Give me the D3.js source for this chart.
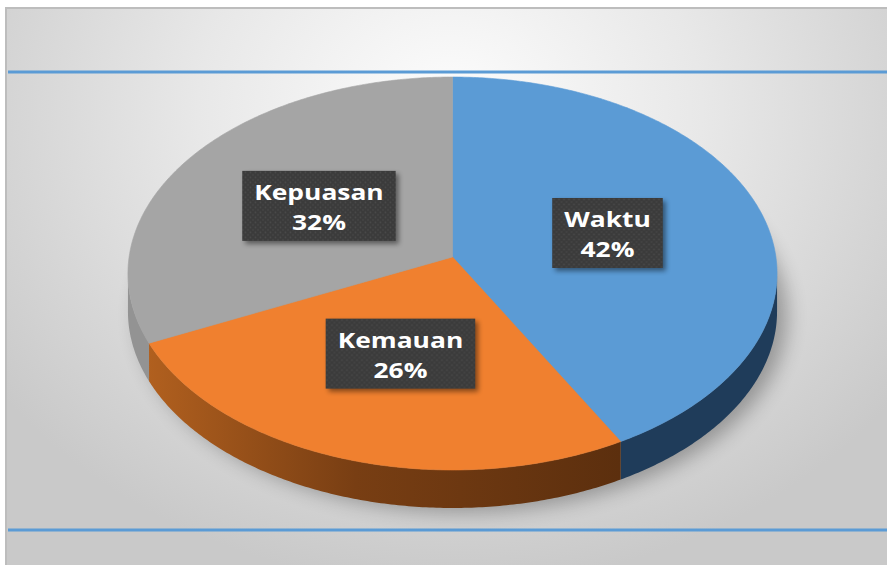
<!DOCTYPE html>
<html>
<head>
<meta charset="utf-8">
<script src="https://cdn.jsdelivr.net/npm/d3@7"></script>
<style>
  html, body { margin: 0; padding: 0; background: #fff; }
  svg { display: block; }
</style>
</head>
<body>
<script>
// data
const categories = ["Waktu", "Kemauan", "Kepuasan"];
const values = [42, 26, 32];
const percentLabels = ["42%", "26%", "32%"];

// colours of top faces and rims
const topColors = ["#5b9bd5", "#f0802f", "#a5a5a5"];
const sideColors = ["#1f3c5a", "url(#orangeSide)", "#939393"];

const W = 887, H = 565;

const svg = d3.select("body").append("svg")
  .attr("width", W)
  .attr("height", H);

const defs = svg.append("defs");

// background gradient
const bg = defs.append("radialGradient")
  .attr("id", "bg")
  .attr("gradientUnits", "userSpaceOnUse")
  .attr("cx", 450).attr("cy", 110).attr("r", 560)
  .attr("gradientTransform", "translate(450,110) scale(1,0.85) translate(-450,-110)");
bg.append("stop").attr("offset", "0%").attr("stop-color", "#fdfdfd");
bg.append("stop").attr("offset", "45%").attr("stop-color", "#e8e8e8");
bg.append("stop").attr("offset", "100%").attr("stop-color", "#c9c9c9");

// orange rim gradient
const og = defs.append("linearGradient")
  .attr("id", "orangeSide")
  .attr("gradientUnits", "userSpaceOnUse")
  .attr("x1", 140).attr("x2", 620).attr("y1", 0).attr("y2", 0);
og.append("stop").attr("offset", "0%").attr("stop-color", "#b3611f");
og.append("stop").attr("offset", "45%").attr("stop-color", "#783e13");
og.append("stop").attr("offset", "100%").attr("stop-color", "#5c2f0e");

// label texture
const pat = defs.append("pattern")
  .attr("id", "dots")
  .attr("width", 5).attr("height", 5)
  .attr("patternUnits", "userSpaceOnUse");
pat.append("rect").attr("width", 5).attr("height", 5).attr("fill", "#3b3b3b");
pat.append("circle").attr("cx", 1.5).attr("cy", 1.5).attr("r", 0.9).attr("fill", "#4a4a4a");
pat.append("circle").attr("cx", 4).attr("cy", 4).attr("r", 0.9).attr("fill", "#454545");

const blur = defs.append("filter").attr("id", "pieShadow")
  .attr("x", "-20%").attr("y", "-20%").attr("width", "140%").attr("height", "140%");
blur.append("feGaussianBlur").attr("stdDeviation", 10);

const boxShadow = defs.append("filter").attr("id", "boxShadow")
  .attr("x", "-20%").attr("y", "-20%").attr("width", "150%").attr("height", "150%");
boxShadow.append("feGaussianBlur").attr("stdDeviation", 2.5);

// chart area
svg.append("rect")
  .attr("x", 6).attr("y", 8)
  .attr("width", W).attr("height", H)
  .attr("fill", "url(#bg)")
  .attr("stroke", "#bdbdbd")
  .attr("stroke-width", 2);

svg.append("line")
  .attr("x1", 8).attr("x2", W).attr("y1", 72).attr("y2", 72)
  .attr("stroke", "#5b9bd5").attr("stroke-width", 3);
svg.append("line")
  .attr("x1", 8).attr("x2", W).attr("y1", 530).attr("y2", 530)
  .attr("stroke", "#5b9bd5").attr("stroke-width", 3);

// perspective projection of the pie disc
const cx = 452.5, cy0 = 257, A = 323.4, D = -173.5, g = 0.084, depth = 38;
function proj(a, r, dz) {
  const u = r * Math.sin(a), v = r * Math.cos(a);
  const w = 1 + g * v;
  return [cx + A * u / w, (D * v + cy0) / w + (dz || 0)];
}

const pie = d3.pie().sort(null).value(d => d);
const arcs = pie(values);

const line = d3.line();
function rim(a0, a1, dz) {
  const n = Math.max(2, Math.ceil((a1 - a0) / 0.01));
  return d3.range(n + 1).map(i => proj(a0 + (a1 - a0) * i / n, 1, dz));
}

const frontStart = Math.PI / 2 + Math.asin(g), frontEnd = 3 * Math.PI / 2 - Math.asin(g);

// soft shadow under the disc
svg.append("path")
  .attr("d", line(rim(0, 2 * Math.PI, 0).map(p => [p[0] + 10, p[1] + depth + 4])) + "Z")
  .attr("fill", "#000")
  .attr("opacity", 0.3)
  .attr("filter", "url(#pieShadow)");

const pieG = svg.append("g");

// rims (front half only)
pieG.selectAll("path.side")
  .data(arcs)
  .join("path")
  .attr("class", "side")
  .attr("d", d => {
    const a0 = Math.max(d.startAngle, frontStart), a1 = Math.min(d.endAngle, frontEnd);
    if (a1 <= a0) return null;
    const top = rim(a0, a1, 0), bot = rim(a0, a1, depth).reverse();
    return line(top.concat(bot)) + "Z";
  })
  .attr("fill", (d, i) => sideColors[i]);

// top faces
pieG.selectAll("path.top")
  .data(arcs)
  .join("path")
  .attr("class", "top")
  .attr("d", d => line([proj(0, 0)].concat(rim(d.startAngle, d.endAngle, 0))) + "Z")
  .attr("fill", (d, i) => topColors[i])
  .attr("stroke", (d, i) => topColors[i])
  .attr("stroke-width", 0.6);

// data labels
const sx = 1.2;
const labels = svg.selectAll("g.label")
  .data(arcs)
  .join("g")
  .attr("class", "label")
  .attr("transform", d => {
    const p = proj((d.startAngle + d.endAngle) / 2, 0.5);
    return `translate(${p[0]},${p[1]})`;
  });

labels.each(function(d, i) {
  const gL = d3.select(this);
  const t = gL.append("text")
    .attr("text-anchor", "middle")
    .attr("fill", "#fff")
    .attr("font-family", "'Open Sans', sans-serif")
    .attr("font-weight", 700)
    .attr("font-size", 22)
    .attr("transform", `scale(${sx},1)`);
  t.append("tspan").attr("x", 0).attr("y", -6).text(categories[i]);
  t.append("tspan").attr("x", 0).attr("y", 24).text(percentLabels[i]);
  const tw = Math.max(...t.selectAll("tspan").nodes().map(n => n.getComputedTextLength())) * sx;
  const bw = tw + 24, bh = 70;
  gL.insert("rect", "text")
    .attr("x", -bw / 2 + 3).attr("y", -bh / 2 + 3)
    .attr("width", bw).attr("height", bh)
    .attr("fill", "#000").attr("opacity", 0.45)
    .attr("filter", "url(#boxShadow)");
  gL.insert("rect", "text")
    .attr("x", -bw / 2).attr("y", -bh / 2)
    .attr("width", bw).attr("height", bh)
    .attr("fill", "url(#dots)");
});
</script>
</body>
</html>
